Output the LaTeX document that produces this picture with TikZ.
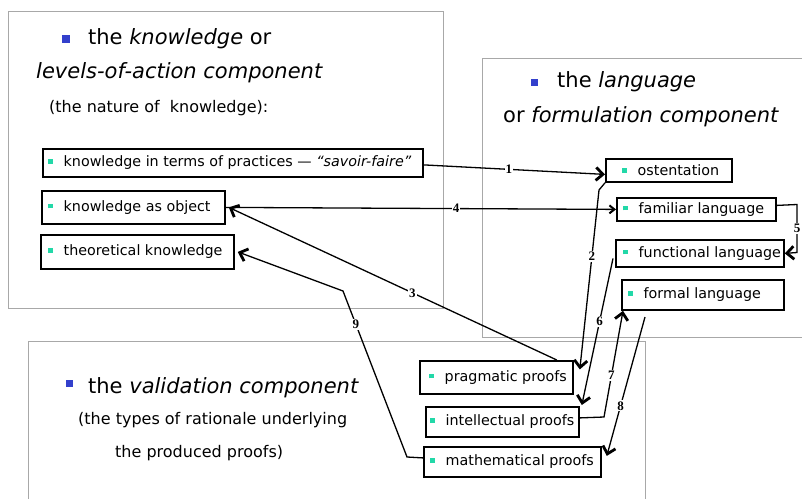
\documentclass[tikz,border=0pt]{standalone}
\usepackage{fontspec}
\setmainfont{DejaVu Sans}
\newfontfamily\numfont{Liberation Serif}
\usetikzlibrary{arrows.meta}
\definecolor{panelgray}{HTML}{A8A8A8}
\definecolor{bulcyan}{HTML}{22D8A8}
\definecolor{bulblue}{HTML}{3340CC}
\newcommand\cb{\textcolor{bulcyan}{\rule[0.2em]{4.5pt}{4.5pt}}\hspace{11pt}}
\newcommand\pbox[7]{%
  \node[box,minimum width=#4,minimum height=#5] (#1) at (#2,#3) {};
  \node[boxtext] (#1t) at ([xshift=#6]#1.west) {\cb #7};}
\begin{document}
\begin{tikzpicture}[x=1pt,y=-1pt,
  panel/.style={draw=panelgray,line width=0.9pt},
  box/.style={draw=black,line width=1.8pt,anchor=north west,inner sep=0pt},
  boxtext/.style={anchor=west,inner sep=0pt,font=\fontsize{14.3}{16}\selectfont},
  title/.style={anchor=base west,inner sep=0pt,font=\fontsize{21}{24}\selectfont},
  sub/.style={anchor=base west,inner sep=0pt,font=\fontsize{16}{19}\selectfont},
  bbul/.style={fill=bulblue,draw=none,minimum size=7.5pt,inner sep=0pt},
  conn/.style={line width=1.3pt},
  tip/.style={-{Straight Barb[length=7pt,width=13pt,line width=2.8pt]}},
  smalltip/.style={-{Straight Barb[length=5pt,width=8pt,line width=2pt]}},
  lab/.style={fill=white,inner sep=1.2pt,font=\numfont\bfseries\fontsize{13}{13}\selectfont}]
\useasboundingbox (0,0) rectangle (802,498);
\fill[white] (0,0) rectangle (802,498);
% panels
\draw[panel] (8,11) rectangle (443,308);
\draw[panel] (482,58) rectangle (810,337);
\draw[panel] (28,341) rectangle (645,510);
% titles
\node[bbul] (kb) at (66,39) {};
\node[title] (kt1) at (88,44) {the \textit{knowledge} or};
\node[title] (kt2) at (36,78) {\textit{levels-of-action component}};
\node[sub] (kt3) at (49,112) {(the nature of\ \ knowledge):};
\node[bbul] (lb) at (534.5,82.5) {};
\node[title] (lt1) at (557,87) {the \textit{language}};
\node[title] (lt2) at (503,122) {or \textit{formulation component}};
\node[bbul] (vb) at (69.5,383.5) {};
\node[title] (vt1) at (88,393) {the \textit{validation component}};
\node[sub] (vt2) at (78,424) {(the types of rationale underlying};
\node[sub] (vt3) at (115,457) {the produced proofs)};
% boxes
\pbox{A}{42}{148}{380}{28}{6}{knowledge in terms of practices — \textit{“savoir-faire”}}
\pbox{B}{41}{190}{183}{33}{7}{knowledge as object}
\pbox{C}{40}{234}{193}{34}{8}{theoretical knowledge}
\pbox{O}{605}{158}{126}{23}{17}{ostentation}
\pbox{FA}{616}{197}{159}{23}{7}{familiar language}
\pbox{FU}{615}{239}{168}{27}{8}{functional language}
\pbox{FO}{621}{279}{162}{30}{7}{formal language}
\pbox{P}{419}{360}{153}{33}{10}{pragmatic proofs}
\pbox{I}{425}{406}{153}{30}{5}{intellectual proofs}
\pbox{M}{423}{446}{177}{30}{7}{mathematical proofs}
% connectors
\draw[conn,tip] ([yshift=-2]A.east) -- node[lab,pos=0.47]{1} ([yshift=-4]O.west);
\draw[conn,smalltip] (B.east) -- node[lab,pos=0.59]{4} (FA.west);
\draw[conn,tip] ([xshift=-17]P.north east) -- node[lab,pos=0.44]{3} ([xshift=3]B.east);
\draw[conn,tip] (O.south west) -- (599,190) -- node[lab,pos=0.37]{2} ([xshift=6,yshift=8]P.east);
\draw[conn,tip] ([xshift=-2,yshift=-5]FU.west) -- node[lab,pos=0.43]{6} ([xshift=2,yshift=1]I.north east);
\draw[conn,tip] ([yshift=4]I.east) -- (604,417) -- node[lab,pos=0.39]{7} ([xshift=2]FO.south west);
\coordinate (s8) at (645,317);
\draw[conn,tip] (s8) -- node[lab,pos=0.64]{8} ([xshift=5,yshift=6]M.east);
\draw[conn,tip] ([yshift=4]FA.east) -- (797,204.5) -- node[lab,pos=0.5]{5} (797,252.5) -- (FU.east);
\draw[conn,tip] ([yshift=4]M.west) -- (407,457) -- node[lab,pos=0.8]{9} (343,291) -- ([xshift=3]C.east);
\end{tikzpicture}
\end{document}
